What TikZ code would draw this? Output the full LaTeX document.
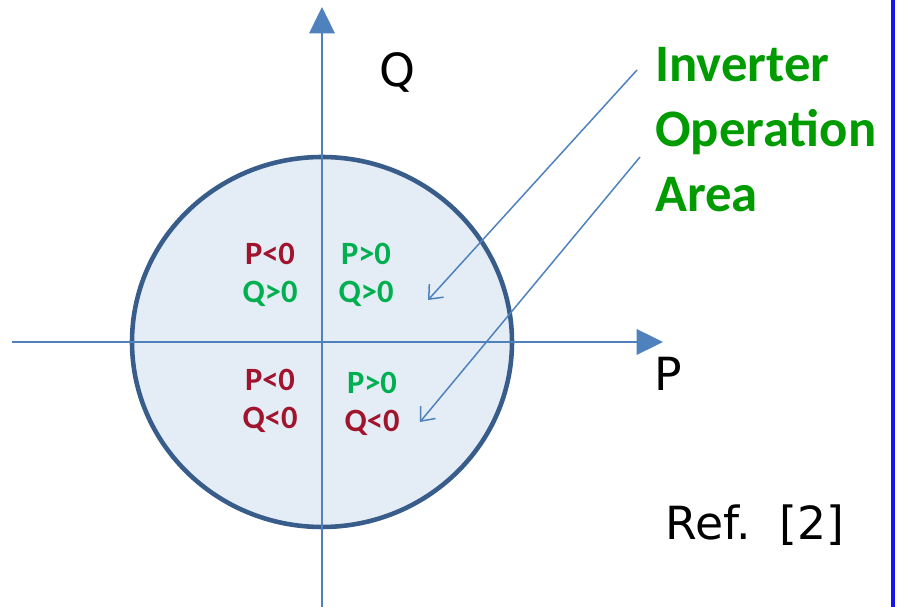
\documentclass[tikz,border=0pt]{standalone}
\usepackage{fontspec}
\setmainfont{DejaVu Sans}
\newfontfamily\calibfont{Carlito}
\usetikzlibrary{arrows.meta}
\definecolor{axisblue}{RGB}{79,129,189}
\definecolor{rimblue}{RGB}{56,93,138}
\definecolor{areafill}{RGB}{228,236,246}
\definecolor{negred}{RGB}{160,20,45}
\definecolor{posgreen}{RGB}{0,176,80}
\definecolor{titlegreen}{RGB}{0,155,0}
\definecolor{frameblue}{RGB}{20,20,240}

\begin{document}
\begin{tikzpicture}[x=0.02cm, y=-0.02cm,
    axis/.style={draw=axisblue, line width=1.1pt, -{Triangle[length=15pt, width=14.5pt]}},
    pointer/.style={draw=axisblue, line width=0.85pt, -{Straight Barb[length=6.5pt, width=11pt]}},
    axislabel/.style={font=\fontsize{26}{30}\selectfont, inner sep=0pt},
    quadlabel/.style={font=\calibfont\bfseries\fontsize{18.5}{22}\selectfont, align=center, inner sep=0pt},
    titlelabel/.style={font=\calibfont\bfseries\fontsize{30}{37}\selectfont, text=titlegreen, align=left, inner sep=0pt}
  ]
    \useasboundingbox (0,0) rectangle (897,607);

    \draw[draw=rimblue, fill=areafill, line width=2.6pt] (322,342) ellipse [x radius=190, y radius=185];

    \coordinate (pStart) at (12,342);
    \coordinate (pEnd) at (663,342);
    \coordinate (qStart) at (322,607);
    \coordinate (qEnd) at (322,7);
    \draw[axis] (pStart) -- (pEnd);
    \draw[axis] (qStart) -- (qEnd);

    \node[axislabel] (qlabel) at (397,72) {Q};
    \node[axislabel] (plabel) at (668,374) {P};
    \node[axislabel] (reflabel) at (755,525) {Ref.~~[2]};

    \node[quadlabel] (quadII) at (270,275) {\textcolor{negred}{P<0}\\\textcolor{posgreen}{Q>0}};
    \node[quadlabel] (quadI) at (366,275) {\textcolor{posgreen}{P>0}\\\textcolor{posgreen}{Q>0}};
    \node[quadlabel] (quadIII) at (270,401) {\textcolor{negred}{P<0}\\\textcolor{negred}{Q<0}};
    \node[quadlabel] (quadIV) at (372,404) {\textcolor{posgreen}{P>0}\\\textcolor{negred}{Q<0}};

    \node[titlelabel, anchor=west] (area) at (655,130) {Inverter\\Operation\\Area};

    \coordinate (tailA) at (637,70);
    \coordinate (headA) at (428,300);
    \coordinate (tailB) at (640,157);
    \coordinate (headB) at (420,422);
    \draw[pointer] (tailA) -- (headA);
    \draw[pointer] (tailB) -- (headB);

    \coordinate (frameTop) at (893,0);
    \coordinate (frameBot) at (893,607);
    \draw[frameblue, line width=1.8pt] (frameTop) -- (frameBot);
  \end{tikzpicture}
\end{document}
